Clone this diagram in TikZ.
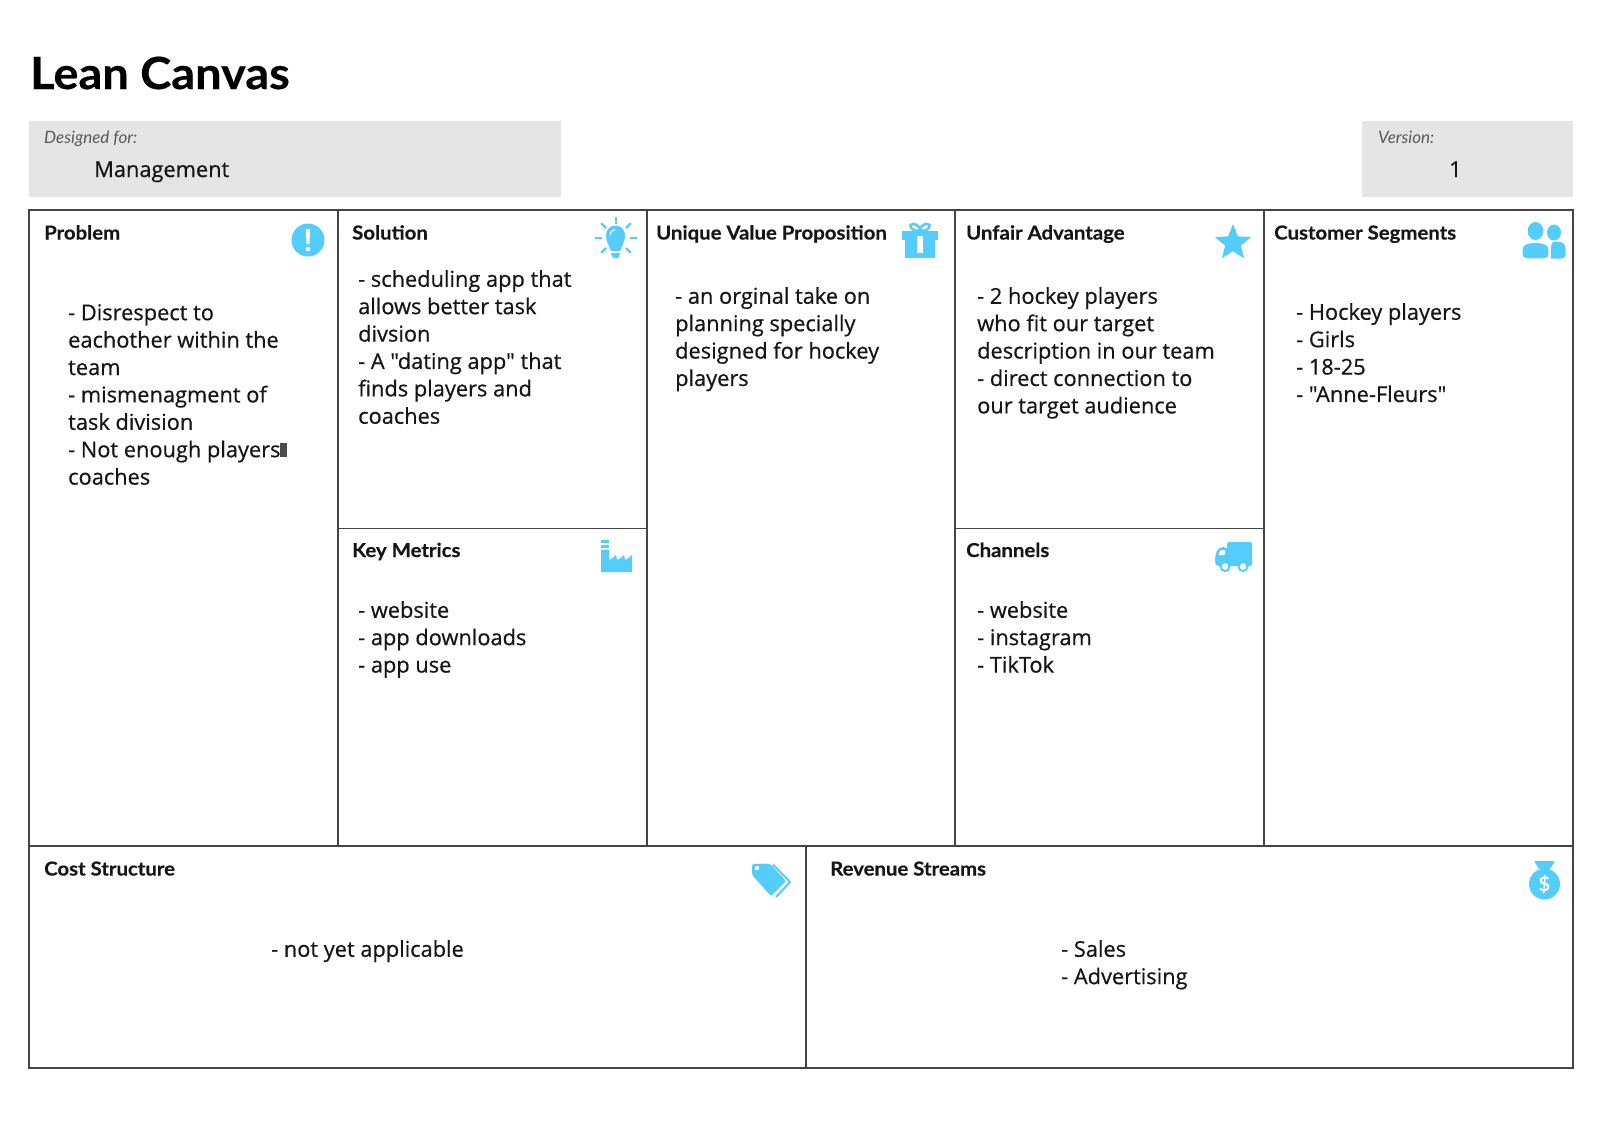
\documentclass[tikz,border=0pt]{standalone}
\usepackage{fontspec}
\setmainfont{Lato}
\newfontfamily\bodyfont{Open Sans}[RawFeature={embolden=0.6}]
\newfontfamily\headfont{Lato}[FakeStretch=1.06,RawFeature={embolden=0.4}]
\usetikzlibrary{shapes.geometric}
\usepackage{xcolor}
\definecolor{iconblue}{HTML}{55CDFC}
\definecolor{boxgray}{HTML}{E5E5E5}
\definecolor{linegray}{HTML}{454545}
\definecolor{inkblack}{HTML}{161616}
\tikzset{
	cellhead/.style={anchor=base west, inner sep=0pt, text=inkblack, font=\headfont\fontsize{19.2}{23}\selectfont\bfseries},
	celltext/.style={anchor=north west, inner sep=0pt, align=left, text=inkblack, font=\bodyfont\fontsize{21.8}{27.4}\selectfont},
	smalllabel/.style={anchor=base west, inner sep=0pt, text=black!65, font=\fontsize{17}{20}\selectfont\itshape},
	iconpart/.style={fill=iconblue, draw=none},
	iconcut/.style={fill=white, draw=none},
	cellline/.style={draw=linegray, line width=1.3pt},
}
\begin{document}
\begin{tikzpicture}[x=1pt,y=-1pt]
	\useasboundingbox (0,0) rectangle (1600,1132);
	% title and the two grey boxes
	\node[anchor=base west, inner sep=0pt, text=black, font=\headfont\fontsize{44.3}{50}\selectfont\bfseries] (title) at (30,89) {Lean Canvas};
	\fill[boxgray] (29,120.5) rectangle (561,197);
	\fill[boxgray] (1362,120.5) rectangle (1573,197);
	\node[smalllabel] (designedlabel) at (44,143) {Designed for:};
	\node[anchor=base west, inner sep=0pt, text=inkblack, font=\bodyfont\fontsize{21.8}{27}\selectfont] (designedvalue) at (94,177) {Management};
	\node[smalllabel] (versionlabel) at (1378,143) {Version:};
	\node[anchor=base west, inner sep=0pt, text=inkblack, font=\bodyfont\fontsize{21.8}{27}\selectfont] (versionvalue) at (1449,177) {1};
	% draw the canvas lines
	\draw[cellline] (29,210) rectangle (1573,1068);
	\draw[cellline] (29,846) -- (1573,846);
	\draw[cellline] (806,846) -- (806,1068);
	\draw[cellline] (338,210) -- (338,846);
	\draw[cellline] (647,210) -- (647,846);
	\draw[cellline] (955,210) -- (955,846);
	\draw[cellline] (1264,210) -- (1264,846);
	\draw[cellline] (338,528.5) -- (647,528.5);
	\draw[cellline] (955,528.5) -- (1264,528.5);
	% cell headings
	\node[cellhead] (problemhead) at (44,239.5) {Problem};
	\node[cellhead] (solutionhead) at (352,239.5) {Solution};
	\node[cellhead] (valuehead) at (656,239.5) {Unique Value Proposition};
	\node[cellhead] (unfairhead) at (966,239.5) {Unfair Advantage};
	\node[cellhead] (segmentshead) at (1274,239.5) {Customer Segments};
	\node[cellhead] (metricshead) at (352,557) {Key Metrics};
	\node[cellhead] (channelshead) at (966,557) {Channels};
	\node[cellhead] (costhead) at (44,875.5) {Cost Structure};
	\node[cellhead] (revenuehead) at (830,875.5) {Revenue Streams};
	% cell texts
	\node[celltext] (problemtext) at (68,304) {- Disrespect to\\eachother within the\\team\\- mismenagment of\\task division\\- Not enough players\textcolor{black!70}{\rule{7pt}{14pt}}\\coaches};
	\node[celltext] (solutiontext) at (358,270) {- scheduling app that\\allows better task\\divsion\\- A "dating app" that\\finds players and\\coaches};
	\node[celltext] (valuetext) at (675,287) {- an orginal take on\\planning specially\\designed for hockey\\players};
	\node[celltext] (unfairtext) at (977,287) {- 2 hockey players\\who fit our target\\description in our team\\- direct connection to\\our target audience};
	\node[celltext] (segmentstext) at (1296,303) {- Hockey players\\- Girls\\- 18-25\\- "Anne-Fleurs"};
	\node[celltext] (metricstext) at (358,601) {- website\\- app downloads\\- app use};
	\node[celltext] (channelstext) at (977,601) {- website\\- instagram\\- TikTok};
	\node[celltext] (costtext) at (271,940) {- not yet applicable};
	\node[celltext] (revenuetext) at (1061,940) {- Sales\\- Advertising};
	% problem icon
	\fill[iconpart] (308,240) circle (16.5);
	\fill[iconcut] (305.8,229) -- (310.2,229) -- (309.4,244) -- (306.6,244) -- cycle;
	\fill[iconcut] (308,249) circle (2.3);
	% solution icon
	\foreach \ang in {-45,0,45,90,135,180,225}
		\draw[iconblue, line width=2.2pt] (616,238)+(\ang:-14) -- +(\ang:-21);
	\fill[iconpart] (606,235) arc (180:360:9.5) .. controls (625,242) and (622,245) .. (620,251) -- (611,251) .. controls (609,245) and (606,242) .. (606,235) -- cycle;
	\fill[iconpart] (611,253) -- (620,253) -- (619,257) -- (616,258.5) -- (612,257) -- cycle;
	\draw[white, line width=1pt] (610,235) .. controls (610,232) and (612,230) .. (615,229.5);
	% value icon
	\draw[iconblue, line width=2.6pt] (920,231) .. controls (910,231) and (908,224) .. (913,224) .. controls (917,224) and (920,227) .. (920,231) .. controls (920,227) and (923,224) .. (927,224) .. controls (932,224) and (930,231) .. (920,231);
	\fill[iconpart] (902,230.5) rectangle (938,240);
	\fill[iconpart] (905,240) rectangle (935,258);
	\fill[iconcut] (917,236) rectangle (923,253);
	% unfair icon
	\node[star, star points=5, star point ratio=2.3, fill=iconblue, inner sep=0pt, minimum size=38pt] (staricon) at (1233,243) {};
	% segments icon
	\fill[iconpart] (1554,232.5) ellipse (7 and 8);
	\fill[iconpart] (1551,258.5) -- (1551,246) .. controls (1551,243) and (1553,241.5) .. (1557,241.5) .. controls (1562,241.5) and (1565.5,244) .. (1565.5,248) -- (1565.5,255) .. controls (1565.5,257.5) and (1564,258.5) .. (1561,258.5) -- cycle;
	\fill[iconpart] (1535.5,231) ellipse (7.8 and 9);
	\fill[iconpart] (1522.7,255) -- (1522.7,249) .. controls (1522.7,245) and (1528,243) .. (1535.5,243) .. controls (1543,243) and (1548.3,245) .. (1548.3,249) -- (1548.3,255) .. controls (1548.3,258) and (1544,258.5) .. (1535.5,258.5) .. controls (1527,258.5) and (1522.7,258) .. (1522.7,255) -- cycle;
	% metrics icon
	\fill[iconpart] (601,540) rectangle (609,543);
	\fill[iconpart] (601,545) rectangle (609,547.5);
	\fill[iconpart] (601,549.5) -- (609,549.5) -- (609,560) .. controls (612,559) and (614,557) .. (616,555) -- (617,560) .. controls (620,559) and (622,557) .. (624,555) -- (625,560) .. controls (627,559) and (630,557) .. (632,555) -- (632,572) -- (601,572) -- cycle;
	% channels icon
	\fill[iconpart,rounded corners=1.5pt] (1227,542) rectangle (1252,566);
	\fill[iconpart,rounded corners=4pt] (1215,566) -- (1215,555) -- (1219,547) -- (1228,547) -- (1228,566) -- cycle;
	\fill[iconcut,rounded corners=1pt] (1218,555) -- (1220.5,550) -- (1225,550) -- (1225,555) -- cycle;
	\foreach \wheelx in {1225,1243} {
		\fill[iconcut] (\wheelx,566.5) circle (4);
		\draw[iconblue, line width=2pt] (\wheelx,566.5) circle (4.5);
	}
	% cost icon
	\draw[iconblue, line width=2pt] (773,864.5) -- (790,882) -- (776,897);
	\fill[iconpart,rounded corners=2pt] (752,864) -- (770,863.5) -- (786,881) -- (771,896) -- (752,875) -- cycle;
	\fill[iconcut] (757,868) circle (2.3);
	% revenue icon
	\fill[iconpart,rounded corners=1pt] (1534,861) -- (1555,861) -- (1550,869) -- (1539,869) -- cycle;
	\fill[iconpart] (1544.5,884) ellipse (15.5 and 15.5);
	\node[inner sep=0pt, text=white, font=\fontsize{20}{20}\selectfont\bfseries] (dollaricon) at (1544.5,884) {\$};
\end{tikzpicture}
\end{document}
